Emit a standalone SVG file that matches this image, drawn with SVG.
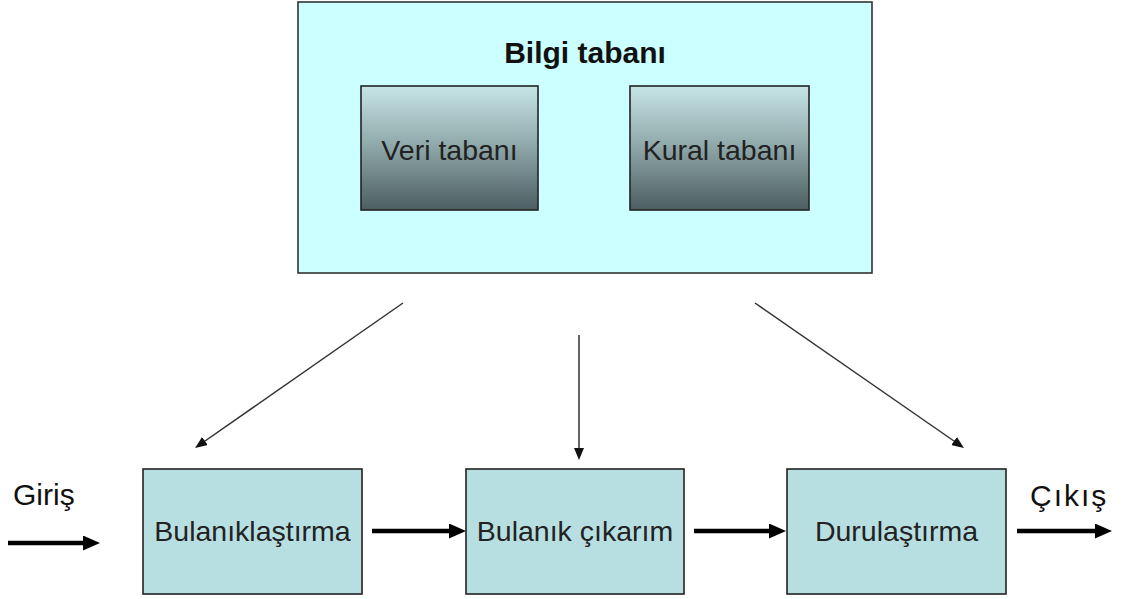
<svg xmlns="http://www.w3.org/2000/svg" width="1122" height="599" viewBox="0 0 1122 599">
<style>
.lbl{font-family:"Liberation Sans",Arial,sans-serif;font-size:28.5px;fill:#222;text-anchor:middle}
.io{font-family:"Liberation Sans",Arial,sans-serif;font-size:30px;fill:#111}
.title{font-family:"Liberation Sans",Arial,sans-serif;font-size:30px;font-weight:bold;fill:#111;text-anchor:middle}
.outer{fill:#ccffff;stroke:#333;stroke-width:1.6}
.inner{fill:url(#g);stroke:#222;stroke-width:1.6}
.blk{fill:#b7dfe2;stroke:#222;stroke-width:1.6}
.thin{stroke:#333;stroke-width:1.5;fill:none}
.thick{stroke:#000;stroke-width:4.5;fill:none}
</style>
<defs>
<linearGradient id="g" x1="0" y1="0" x2="0" y2="1">
<stop offset="0" stop-color="#c6e4e6"/>
<stop offset="0.45" stop-color="#93acae"/>
<stop offset="1" stop-color="#4c5e61"/>
</linearGradient>
<marker id="ah" markerUnits="userSpaceOnUse" markerWidth="12" markerHeight="10" refX="6" refY="5" orient="auto">
<path d="M0,0 L12,5 L0,10 z" fill="#111"/>
</marker>
<marker id="AH" markerUnits="userSpaceOnUse" markerWidth="17" markerHeight="15" refX="7" refY="7.5" orient="auto">
<path d="M0,0 L17,7.5 L0,15 z" fill="#000"/>
</marker>
</defs>
<rect width="1122" height="599" fill="#fff"/>
<g id="bilgi-tabani">
<rect class="outer" x="298" y="2" width="574" height="271"/>
<text class="title" x="585" y="63">Bilgi tabanı</text>
</g>
<g id="veri-tabani">
<rect class="inner" x="361" y="86" width="177" height="124"/>
<text class="lbl" x="449.5" y="160">Veri tabanı</text>
</g>
<g id="kural-tabani">
<rect class="inner" x="630" y="86" width="179" height="124"/>
<text class="lbl" x="719.5" y="160">Kural tabanı</text>
</g>
<g id="bulaniklastirma">
<rect class="blk" x="143" y="469" width="219" height="125"/>
<text class="lbl" x="252.5" y="541">Bulanıklaştırma</text>
</g>
<g id="bulanik-cikarim">
<rect class="blk" x="466" y="469" width="218" height="125"/>
<text class="lbl" x="575" y="541">Bulanık çıkarım</text>
</g>
<g id="durulastirma">
<rect class="blk" x="787" y="469" width="219" height="125"/>
<text class="lbl" x="896.5" y="541">Durulaştırma</text>
</g>
<g id="giris">
<text class="io" x="13" y="505">Giriş</text>
</g>
<g id="cikis">
<text class="io" x="1030" y="506" style="letter-spacing:2px">Çıkış</text>
</g>
<g id="connectors">
<line class="thin" x1="403" y1="303" x2="200" y2="444.5" marker-end="url(#ah)"/>
<line class="thin" x1="579" y1="335" x2="579" y2="454" marker-end="url(#ah)"/>
<line class="thin" x1="755" y1="303" x2="959" y2="444.5" marker-end="url(#ah)"/>
<line class="thick" x1="8" y1="543" x2="90" y2="543" marker-end="url(#AH)"/>
<line class="thick" x1="372" y1="531" x2="456" y2="531" marker-end="url(#AH)"/>
<line class="thick" x1="694" y1="531" x2="776" y2="531" marker-end="url(#AH)"/>
<line class="thick" x1="1017" y1="531" x2="1102" y2="531" marker-end="url(#AH)"/>
</g>
</svg>
